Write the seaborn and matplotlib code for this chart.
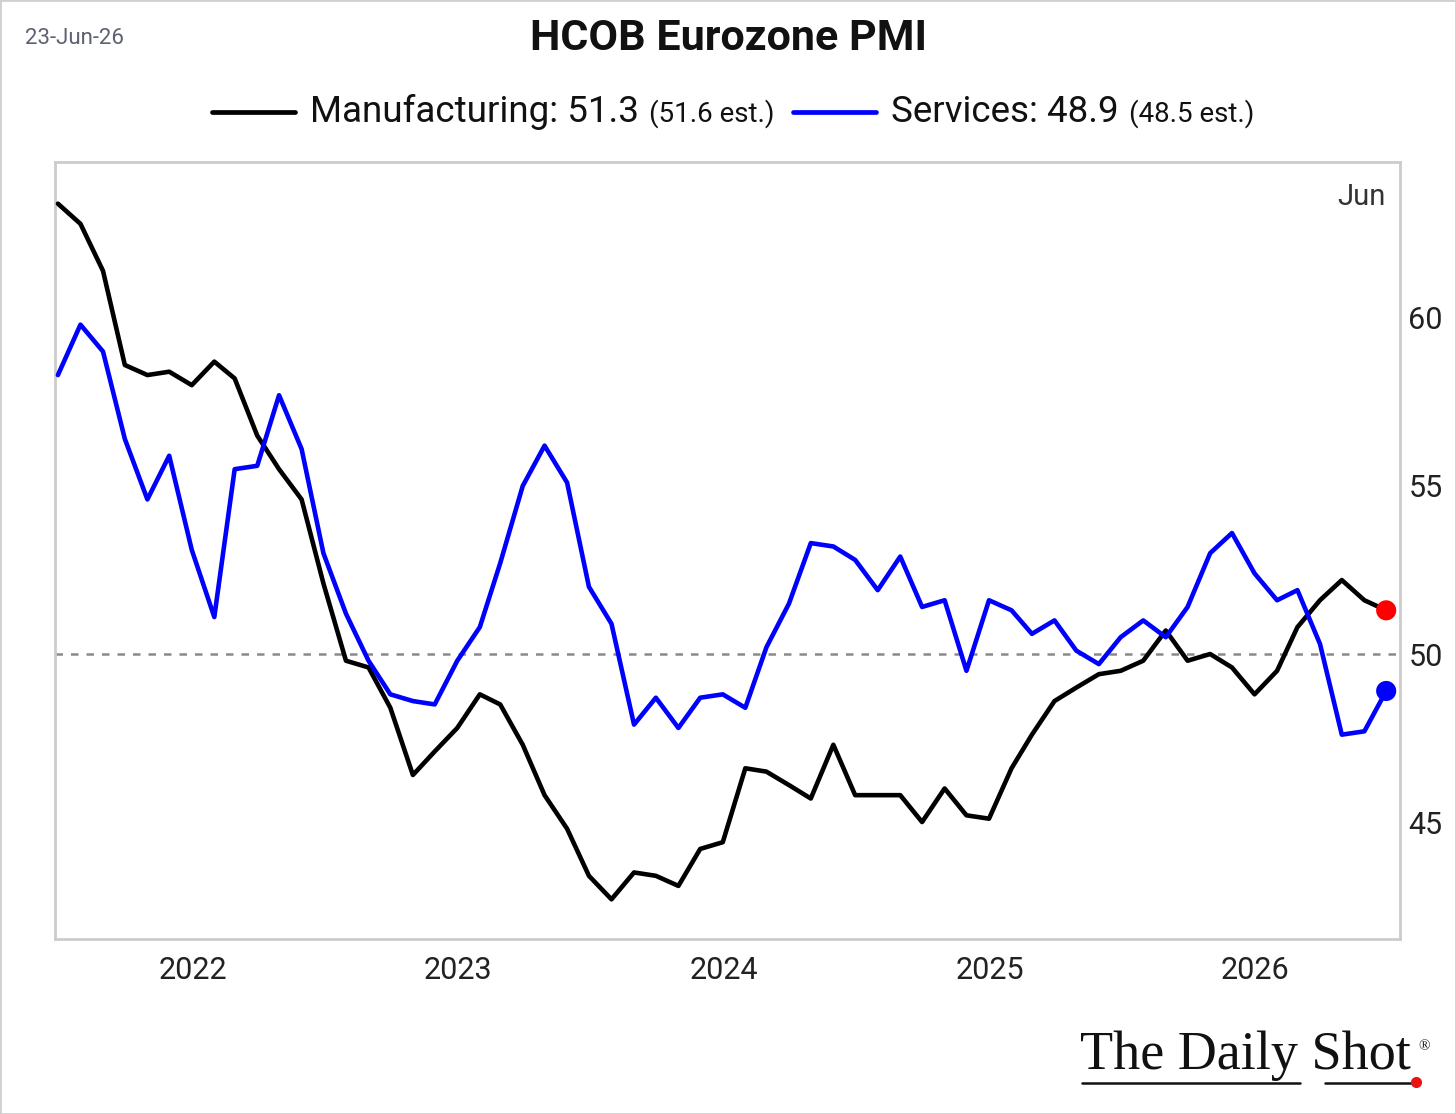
import numpy as np
import pandas as pd
import matplotlib
matplotlib.use("Agg")
import matplotlib.pyplot as plt
from matplotlib.lines import Line2D
from matplotlib.patches import Rectangle
import seaborn as sns

# Monthly HCOB Eurozone PMI readings, Jun 2021 - Jun 2026
months = pd.date_range("2021-06-30", periods=61, freq="ME")
manufacturing = [63.4, 62.8, 61.4, 58.6, 58.3, 58.4, 58.0, 58.7, 58.2, 56.5,
                 55.5, 54.6, 52.1, 49.8, 49.6, 48.4, 46.4, 47.1, 47.8, 48.8,
                 48.5, 47.3, 45.8, 44.8, 43.4, 42.7, 43.5, 43.4, 43.1, 44.2,
                 44.4, 46.6, 46.5, 46.1, 45.7, 47.3, 45.8, 45.8, 45.8, 45.0,
                 46.0, 45.2, 45.1, 46.6, 47.6, 48.6, 49.0, 49.4, 49.5, 49.8,
                 50.7, 49.8, 50.0, 49.6, 48.8, 49.5, 50.8, 51.6, 52.2, 51.6,
                 51.3]
services = [58.3, 59.8, 59.0, 56.4, 54.6, 55.9, 53.1, 51.1, 55.5, 55.6,
            57.7, 56.1, 53.0, 51.2, 49.8, 48.8, 48.6, 48.5, 49.8, 50.8,
            52.7, 55.0, 56.2, 55.1, 52.0, 50.9, 47.9, 48.7, 47.8, 48.7,
            48.8, 48.4, 50.2, 51.5, 53.3, 53.2, 52.8, 51.9, 52.9, 51.4,
            51.6, 49.5, 51.6, 51.3, 50.6, 51.0, 50.1, 49.7, 50.5, 51.0,
            50.5, 51.4, 53.0, 53.6, 52.4, 51.6, 51.9, 50.3, 47.6, 47.7,
            48.9]
series_names = ["Manufacturing", "Services"]
legend_main = ["Manufacturing: 51.3", "Services: 48.9"]
legend_est = ["(51.6 est.)", "(48.5 est.)"]
year_labels = ["2022", "2023", "2024", "2025", "2026"]
y_ticks = [45, 50, 55, 60]

df = pd.DataFrame({
    "date": list(months) * 2,
    "value": manufacturing + services,
    "series": [series_names[0]] * len(months) + [series_names[1]] * len(months),
})

sns.set_theme(style="white")
plt.rcParams["font.family"] = ["Roboto", "DejaVu Sans"]

W, H = 1456, 1114
fig = plt.figure(figsize=(W / 100, H / 100), dpi=100)
ax = fig.add_axes([55 / W, 1 - 939 / H, (1400 - 55) / W, (939 - 162) / H])

line_colors = {"Manufacturing": "black", "Services": "#0000ff"}
dot_colors = {"Manufacturing": "#ff0000", "Services": "#0000ff"}

ax.axhline(50, color="#8a8a8a", lw=1.8, ls=(0, (3, 3.2)), zorder=1)
sns.lineplot(data=df, x="date", y="value", hue="series", palette=line_colors,
             linewidth=3.3, legend=False, ax=ax, zorder=3)
last = df.groupby("series").tail(1)
sns.scatterplot(data=last, x="date", y="value", hue="series", palette=dot_colors,
                s=210, edgecolor="none", legend=False, ax=ax, zorder=4)

ax.set_xlim(pd.Timestamp("2021-06-26"), pd.Timestamp("2026-07-19"))
ax.set_ylim(41.52, 64.64)
ax.set_xticks(pd.to_datetime([f"{y}-01-01" for y in year_labels]))
ax.set_xticklabels(year_labels)
ax.yaxis.tick_right()
ax.set_yticks(y_ticks)
ax.set_yticklabels([str(v) for v in y_ticks])
ax.tick_params(axis="both", length=0, labelsize=22, colors="#222222")
ax.tick_params(axis="x", pad=12)
ax.tick_params(axis="y", pad=6)
ax.set_xlabel("")
ax.set_ylabel("")
for sp in ax.spines.values():
    sp.set_color("#cccccc")
    sp.set_linewidth(2)

ax.text(0.9895, 0.955, "Jun", transform=ax.transAxes, ha="right", va="center",
        fontsize=21, color="#333333")

# title and date stamp
fig.text(0.5, 1 - 38 / H, "HCOB Eurozone PMI", ha="center", va="center",
         fontsize=31, fontweight="bold", color="#111111")
fig.text(25 / W, 1 - 38 / H, "23-Jun-26", ha="left", va="center",
         fontsize=16, color="#5c6270")

# legend with mixed font sizes
fig.canvas.draw()
rend = fig.canvas.get_renderer()
ly = 1 - 112 / H
handle_len, gap_h, gap_e, gap_entry = 83, 15, 10, 19
pieces = []
for name, main, est in zip(series_names, legend_main, legend_est):
    t1 = fig.text(0, ly, main, ha="left", va="center", fontsize=26.5, color="#111111")
    t2 = fig.text(0, ly - 2 / H, est, ha="left", va="center", fontsize=20, color="#111111")
    w1 = t1.get_window_extent(rend).width
    w2 = t2.get_window_extent(rend).width
    pieces.append((name, t1, w1, t2, w2))
total = sum(handle_len + gap_h + w1 + gap_e + w2 for _, _, w1, _, w2 in pieces) + gap_entry
x = (W - total) / 2 + 5
for name, t1, w1, t2, w2 in pieces:
    fig.add_artist(Line2D([x / W, (x + handle_len) / W], [ly, ly],
                          color=line_colors[name], lw=3.4, transform=fig.transFigure))
    x += handle_len + gap_h
    t1.set_x(x / W)
    x += w1 + gap_e
    t2.set_x(x / W)
    x += w2 + gap_entry

# logo
fig.text(1080 / W, 1 - 1056 / H, "The Daily Shot", ha="left", va="center",
         fontsize=39, family="Liberation Serif", color="#111111")
fig.text(1418 / W, 1 - 1047 / H, "®", ha="left", va="center",
         fontsize=11, family="Liberation Serif", color="#111111")
fig.add_artist(Line2D([1082 / W, 1300 / W], [1 - 1083 / H] * 2, color="#111111",
                      lw=1.8, transform=fig.transFigure))
fig.add_artist(Line2D([1325 / W, 1412 / W], [1 - 1083 / H] * 2, color="#111111",
                      lw=1.8, transform=fig.transFigure))
fig.add_artist(Line2D([1416 / W], [1 - 1082 / H], marker="o", color="#ee1111",
                      markersize=7, transform=fig.transFigure))

fig.add_artist(Rectangle((0, 0), 1, 1, transform=fig.transFigure, fill=False,
                         edgecolor="#d0d0d0", lw=2))

fig.savefig("out.png", dpi=100, facecolor="white")
